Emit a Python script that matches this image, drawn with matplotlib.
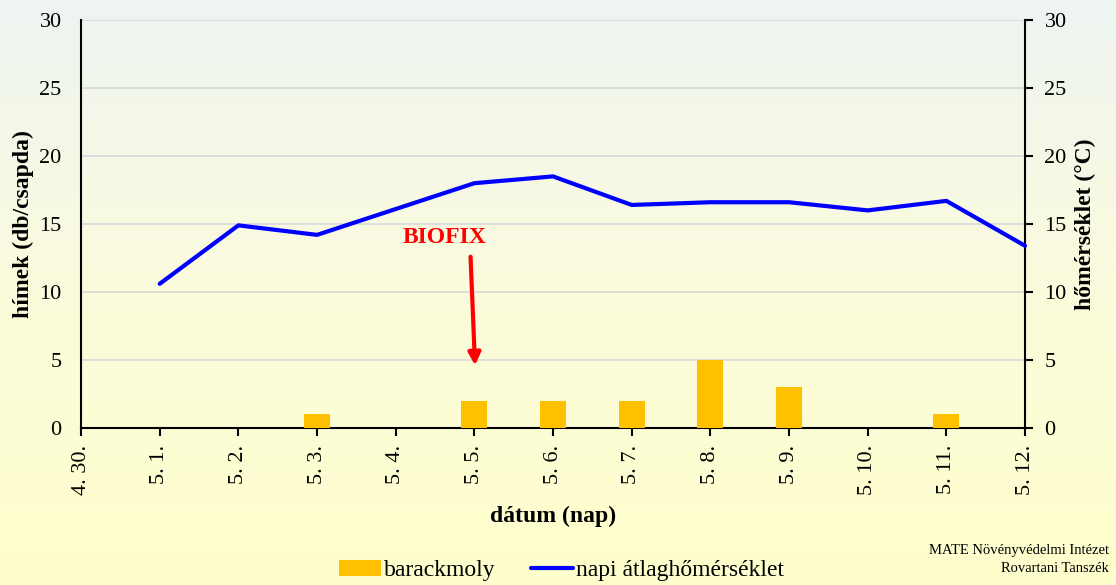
import numpy as np
import matplotlib
matplotlib.use("Agg")
import matplotlib.pyplot as plt
from matplotlib.colors import LinearSegmentedColormap

plt.rcParams["font.family"] = ["Liberation Serif", "DejaVu Serif"]

dates = ["4. 30.", "5. 1.", "5. 2.", "5. 3.", "5. 4.", "5. 5.", "5. 6.",
         "5. 7.", "5. 8.", "5. 9.", "5. 10.", "5. 11.", "5. 12."]
moth_counts = [0, 0, 0, 1, 0, 2, 2, 2, 5, 3, 0, 1, 0]
temp_days = dates[1:]
temp_values = [10.6, 14.9, 14.2, 16.1, 18.0, 18.5, 16.4, 16.6, 16.6, 16.0, 16.7, 13.4]

biofix_day = "5. 5."

fig = plt.figure(figsize=(11.16, 5.85), dpi=100)

# background gradient over the whole figure
bg = fig.add_axes([0, 0, 1, 1], zorder=-10)
cmap = LinearSegmentedColormap.from_list("bg", ["#eef5f2", "#fbfbdc", "#ffffcc"])
bg.imshow(np.linspace(0, 1, 256).reshape(-1, 1), aspect="auto", cmap=cmap,
          extent=[0, 1, 0, 1])
bg.set_axis_off()

ax = fig.add_axes([0.0726, 0.2684, 0.8459, 0.6974])
ax.set_facecolor("none")
x = np.arange(len(dates))
ax.bar(x, moth_counts, width=0.33, color="#ffc000", label="barackmoly", zorder=3)
ax.set_xlim(0, len(dates) - 1)
ax.set_ylim(0, 30)
ax.set_yticks(range(0, 31, 5))
ax.grid(axis="y", color="#d9d9d9", linewidth=1.2, zorder=0)
ax.set_xticks(x)
ax.set_xticklabels(dates, rotation=90, fontsize=16)
ax.tick_params(axis="y", length=0, labelsize=16, pad=14)
ax.tick_params(axis="x", direction="out", length=6, width=1.5, pad=6)
for side in ["top", "right"]:
    ax.spines[side].set_visible(False)
for side in ["left", "bottom"]:
    ax.spines[side].set_linewidth(1.5)
ax.set_ylabel("hímek (db/csapda)", fontsize=17, fontweight="bold", labelpad=4)
ax.set_xlabel("dátum (nap)", fontsize=17, fontweight="bold", labelpad=8)

ax2 = ax.twinx()
tx = [dates.index(d) for d in temp_days]
ax2.plot(tx, temp_values, color="#0000ff", linewidth=3, label="napi átlaghőmérséklet",
         solid_capstyle="round", zorder=4, clip_on=False)
ax2.set_ylim(0, 30)
ax2.set_yticks(range(0, 31, 5))
ax2.tick_params(axis="y", direction="out", length=6, width=1.5, labelsize=16, pad=8)
for side in ["top", "left", "bottom"]:
    ax2.spines[side].set_visible(False)
ax2.spines["right"].set_linewidth(1.5)
ax2.set_ylabel("hőmérséklet (°C)", fontsize=17, fontweight="bold", labelpad=6)

bx = dates.index(biofix_day)
ax.annotate("", xy=(bx + 0.01, 4.4), xytext=(bx - 0.05, 12.8),
            arrowprops=dict(arrowstyle="-|>", color="#ff0000", lw=3,
                            mutation_scale=18), zorder=5)
ax.text(bx - 0.38, 14.0, "BIOFIX", color="#ff0000", fontsize=17,
        fontweight="bold", ha="center", va="center")

h1, l1 = ax.get_legend_handles_labels()
h2, l2 = ax2.get_legend_handles_labels()
fig.legend(h1 + h2, l1 + l2, loc="center", bbox_to_anchor=(0.503, 0.025), ncol=2,
           frameon=False, fontsize=17, handlelength=1.8, handletextpad=0.1,
           columnspacing=1.5)

fig.text(0.994, 0.044, "MATE Növényvédelmi Intézet\nRovartani Tanszék",
         ha="right", va="center", fontsize=10.5, linespacing=1.45)

fig.savefig("out.png", dpi=100)
